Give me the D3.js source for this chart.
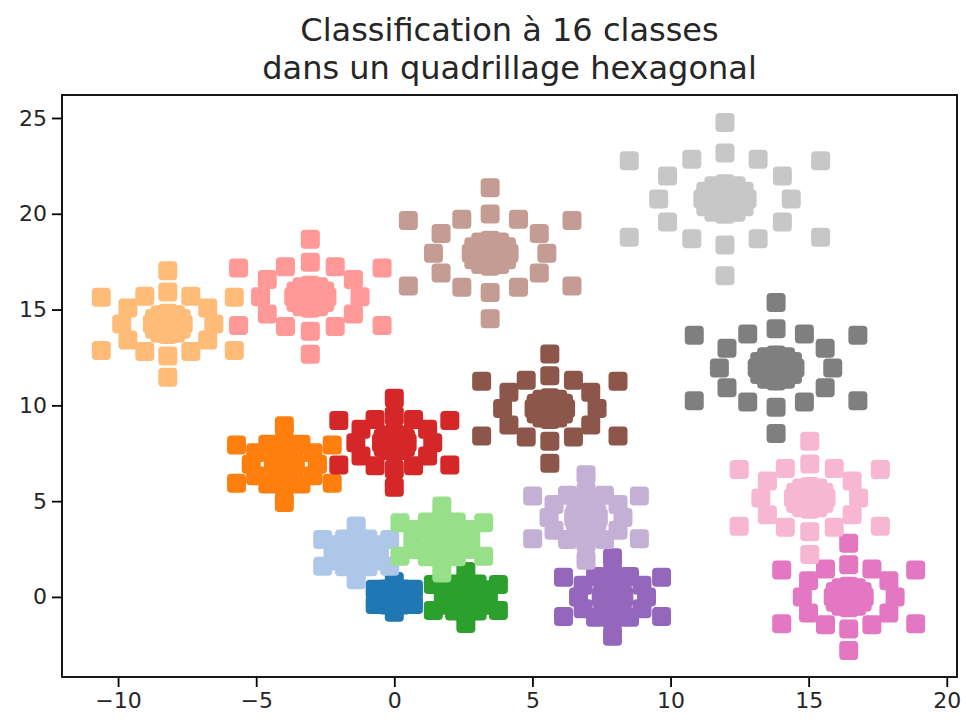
<!DOCTYPE html>
<html>
<head>
<meta charset="utf-8">
<script src="https://cdn.jsdelivr.net/npm/d3@7"></script>
<style>
  html, body { margin: 0; padding: 0; background: #ffffff; }
  svg { display: block; }
  text { font-family: "DejaVu Sans", sans-serif; }
</style>
</head>
<body>
<svg id="chart" width="966" height="722"></svg>
<script>
// ---- data ----
const classes = ["0","1","2","3","4","5","6","7","8","9","10","11","12","13","14","15"];
const colors = ["#1f77b4","#aec7e8","#ff7f0e","#ffbb78","#2ca02c","#98df8a","#d62728","#ff9896",
                "#9467bd","#c5b0d5","#8c564b","#c49c94","#e377c2","#f7b6d2","#7f7f7f","#c7c7c7"];
const centerX = [0.00, -1.38, -3.98, -8.20, 2.59, 1.72, 0.00, -3.04, 7.90, 6.94, 5.63, 3.47, 16.45, 15.04, 13.82, 11.97];
const centerY = [0.00, 2.30, 6.93, 14.25, -0.03, 3.00, 8.05, 15.67, 0.00, 4.15, 9.83, 17.94, 0.00, 5.17, 11.95, 20.77];
const outerRadius = [0.80, 1.40, 2.00, 2.78, 1.36, 1.75, 2.32, 3.00, 2.05, 2.23, 2.85, 3.42, 2.80, 2.95, 3.42, 4.00];
// shape of each class pattern (hexagonal rings)
const outerAngles = [30, 90, 150, 210, 270, 330];
const ringAngles = [0, 30, 60, 90, 120, 150, 180, 210, 240, 270, 300, 330];
const innerAngles = [0, 60, 120, 180, 240, 300];
const ringFraction = 0.6, blobFraction = 0.2, innerFraction = 0.1;
const xTicks = [-10, -5, 0, 5, 10, 15, 20];
const yTicks = [0, 5, 10, 15, 20, 25];
const titleLines = ["Classification à 16 classes", "dans un quadrillage hexagonal"];

// ---- layout ----
const svg = d3.select("#chart");
const L = 62, R = 957, T = 95, B = 677;
const x = d3.scaleLinear().domain([-12.03, 20.37]).range([L, R]);
const y = d3.scaleLinear().domain([-4.18, 26.2]).range([B, T]);

// build points
const pts = [];
classes.forEach((c, i) => {
  const cx = centerX[i], cy = centerY[i], r3 = outerRadius[i];
  const add = (r, a) => pts.push({cls: i, x: cx + r * Math.cos(a * Math.PI / 180), y: cy + r * Math.sin(a * Math.PI / 180)});
  add(0, 0);
  innerAngles.forEach(a => add(r3 * innerFraction, a));
  ringAngles.forEach(a => add(r3 * blobFraction, a));
  ringAngles.forEach(a => add(r3 * ringFraction, a));
  outerAngles.forEach(a => add(r3, a));
});

const S = 19;
svg.append("g").selectAll("rect").data(pts).join("rect")
  .attr("x", d => x(d.x) - S / 2)
  .attr("y", d => y(d.y) - S / 2)
  .attr("width", S).attr("height", S)
  .attr("rx", 4).attr("ry", 4)
  .attr("fill", d => colors[d.cls]);

// axes
const xAxis = d3.axisBottom(x).tickValues(xTicks).tickSize(10).tickPadding(5).tickFormat(d3.format("d"));
const yAxis = d3.axisLeft(y).tickValues(yTicks).tickSize(10).tickPadding(5).tickFormat(d3.format("d"));
const gx = svg.append("g").attr("transform", `translate(0,${B})`).call(xAxis);
const gy = svg.append("g").attr("transform", `translate(${L},0)`).call(yAxis);
[gx, gy].forEach(g => {
  g.select(".domain").remove();
  g.selectAll(".tick line").attr("stroke", "#000").attr("stroke-width", 1.8);
  g.selectAll(".tick text").attr("fill", "#262626").style("font-size", "22px").style("font-family", "DejaVu Sans");
});

// frame
svg.append("rect").attr("x", L).attr("y", T).attr("width", R - L).attr("height", B - T)
  .attr("fill", "none").attr("stroke", "#000").attr("stroke-width", 1.8);

// title
svg.append("text").attr("x", (L + R) / 2).attr("y", 41).attr("text-anchor", "middle")
  .style("font-size", "32px").attr("fill", "#262626").text(titleLines[0]);
svg.append("text").attr("x", (L + R) / 2).attr("y", 79).attr("text-anchor", "middle")
  .style("font-size", "32px").attr("fill", "#262626").text(titleLines[1]);
</script>
</body>
</html>
